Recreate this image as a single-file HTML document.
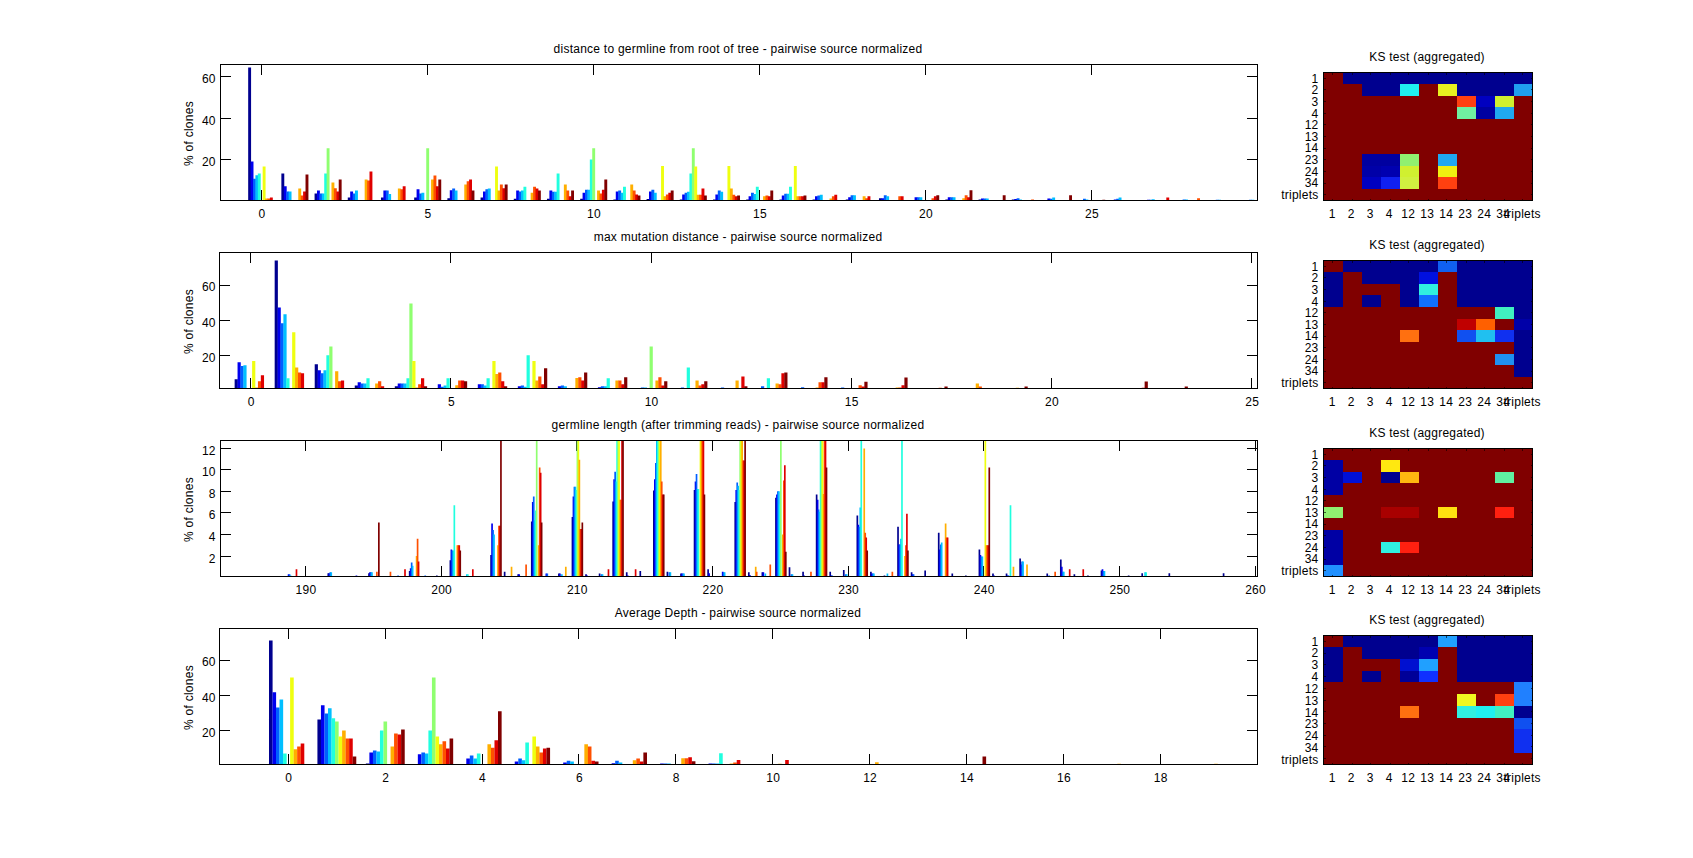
<!DOCTYPE html>
<html lang="en"><head><meta charset="utf-8"><title>pairwise source normalized</title>
<style>html,body{margin:0;padding:0;background:#fff}body{width:1693px;height:858px;overflow:hidden}svg{display:block}text{font-family:"Liberation Sans",Arial,Helvetica,sans-serif;font-size:12px;letter-spacing:0.25px;fill:#000}</style>
</head><body>
<svg width="1693" height="858" viewBox="0 0 1693 858">
<rect x="0" y="0" width="1693" height="858" fill="#fff"/>
<g id="chart1">
<clipPath id="cp0"><rect x="220.5" y="64.5" width="1037" height="136"/></clipPath>
<path stroke="#000" stroke-width="1" fill="none" shape-rendering="crispEdges" d="M261.5 200.5v-10.5M261.5 64.5v10.5M427.5 200.5v-10.5M427.5 64.5v10.5M593.5 200.5v-10.5M593.5 64.5v10.5M759.5 200.5v-10.5M759.5 64.5v10.5M925.5 200.5v-10.5M925.5 64.5v10.5M1091.5 200.5v-10.5M1091.5 64.5v10.5M220.5 159.5h10.5M1257.5 159.5h-10.5M220.5 118.5h10.5M1257.5 118.5h-10.5M220.5 76.5h10.5M1257.5 76.5h-10.5"/>
<g clip-path="url(#cp0)">
<path fill="#00008F" d="M248.17 67.61h2.91v132.89h-2.91zM281.37 173.38h2.91v27.12h-2.91zM314.57 193.46h2.91v7.04h-2.91zM347.77 197.4h2.91v3.1h-2.91zM380.97 197.4h2.91v3.1h-2.91zM414.17 197.4h2.91v3.1h-2.91zM447.37 198.22h2.91v2.28h-2.91zM480.57 197.6h2.91v2.9h-2.91zM513.77 198.64h2.91v1.86h-2.91zM546.97 198.64h2.91v1.86h-2.91zM580.17 198.64h2.91v1.86h-2.91zM613.37 199.47h2.91v1.03h-2.91zM646.57 199.05h2.91v1.45h-2.91zM679.77 199.47h2.91v1.03h-2.91zM712.97 199.47h2.91v1.03h-2.91zM746.17 199.47h2.91v1.03h-2.91zM779.37 199.47h2.91v1.03h-2.91zM812.57 199.47h2.91v1.03h-2.91zM845.77 199.47h2.91v1.03h-2.91zM878.97 198.22h2.91v2.28h-2.91zM945.37 199.47h2.91v1.03h-2.91zM978.57 199.47h2.91v1.03h-2.91zM1011.77 199.47h2.91v1.03h-2.91z"/>
<path fill="#0000EF" d="M250.58 161.38h2.91v39.12h-2.91zM283.78 186.22h2.91v14.28h-2.91zM316.98 190.56h2.91v9.94h-2.91zM350.18 191.39h2.91v9.11h-2.91zM383.38 190.56h2.91v9.94h-2.91zM416.58 189.32h2.91v11.18h-2.91zM449.78 190.15h2.91v10.35h-2.91zM482.98 191.39h2.91v9.11h-2.91zM516.18 190.56h2.91v9.94h-2.91zM549.38 190.56h2.91v9.94h-2.91zM582.58 192.63h2.91v7.87h-2.91zM615.78 191.39h2.91v9.11h-2.91zM648.98 191.39h2.91v9.11h-2.91zM682.18 194.5h2.91v6h-2.91zM715.38 194.5h2.91v6h-2.91zM748.58 196.36h2.91v4.14h-2.91zM781.78 195.53h2.91v4.97h-2.91zM814.98 196.36h2.91v4.14h-2.91zM848.18 197.19h2.91v3.31h-2.91zM881.38 198.22h2.91v2.28h-2.91zM914.58 197.19h2.91v3.31h-2.91zM947.78 197.19h2.91v3.31h-2.91zM980.98 198.43h2.91v2.07h-2.91zM1014.18 199.05h2.91v1.45h-2.91zM1047.38 198.43h2.91v2.07h-2.91zM1113.78 199.47h2.91v1.03h-2.91zM1146.98 199.67h2.91v0.83h-2.91z"/>
<path fill="#0060FF" d="M253 178.76h2.91v21.73h-2.91zM286.2 191.39h2.91v9.11h-2.91zM319.4 193.46h2.91v7.04h-2.91zM352.6 193.46h2.91v7.04h-2.91zM385.8 190.56h2.91v9.94h-2.91zM419 193.46h2.91v7.04h-2.91zM452.2 188.49h2.91v12.01h-2.91zM485.4 189.32h2.91v11.18h-2.91zM518.6 191.39h2.91v9.11h-2.91zM551.8 191.81h2.91v8.69h-2.91zM585 189.74h2.91v10.76h-2.91zM618.2 190.56h2.91v9.94h-2.91zM651.4 189.74h2.91v10.76h-2.91zM684.6 192.63h2.91v7.87h-2.91zM717.8 190.56h2.91v9.94h-2.91zM751 192.63h2.91v7.87h-2.91zM784.2 193.67h2.91v6.83h-2.91zM817.4 195.53h2.91v4.97h-2.91zM850.6 195.32h2.91v5.17h-2.91zM883.8 195.32h2.91v5.17h-2.91zM917 197.19h2.91v3.31h-2.91zM950.2 197.19h2.91v3.31h-2.91zM983.4 198.43h2.91v2.07h-2.91zM1016.6 198.22h2.91v2.28h-2.91zM1049.8 198.64h2.91v1.86h-2.91zM1083 198.64h2.91v1.86h-2.91zM1116.2 198.64h2.91v1.86h-2.91zM1149.4 199.67h2.91v0.83h-2.91zM1182.6 199.47h2.91v1.03h-2.91zM1215.8 199.67h2.91v0.83h-2.91zM1249 199.67h2.91v0.83h-2.91z"/>
<path fill="#00BFFF" d="M255.41 175.25h2.91v25.25h-2.91zM288.61 191.39h2.91v9.11h-2.91zM321.81 193.46h2.91v7.04h-2.91zM355.01 190.56h2.91v9.94h-2.91zM388.21 193.88h2.91v6.62h-2.91zM421.41 192.63h2.91v7.87h-2.91zM454.61 190.56h2.91v9.94h-2.91zM487.81 188.49h2.91v12.01h-2.91zM521.01 190.56h2.91v9.94h-2.91zM554.21 191.81h2.91v8.69h-2.91zM587.41 189.74h2.91v10.76h-2.91zM620.61 192.63h2.91v7.87h-2.91zM653.81 192.63h2.91v7.87h-2.91zM687.01 191.81h2.91v8.69h-2.91zM720.21 191.81h2.91v8.69h-2.91zM753.41 193.88h2.91v6.62h-2.91zM786.61 193.67h2.91v6.83h-2.91zM819.81 194.7h2.91v5.8h-2.91zM853.01 195.32h2.91v5.17h-2.91zM886.21 196.36h2.91v4.14h-2.91zM919.41 197.19h2.91v3.31h-2.91zM952.61 197.19h2.91v3.31h-2.91zM985.81 198.43h2.91v2.07h-2.91zM1019.01 199.47h2.91v1.03h-2.91zM1052.21 197.6h2.91v2.9h-2.91zM1085.41 199.47h2.91v1.03h-2.91zM1118.61 197.6h2.91v2.9h-2.91zM1151.81 199.26h2.91v1.24h-2.91zM1185.01 199.47h2.91v1.03h-2.91zM1218.21 199.67h2.91v0.83h-2.91zM1251.41 199.67h2.91v0.83h-2.91z"/>
<path fill="#20FFDF" d="M257.83 173.38h2.91v27.12h-2.91zM324.23 173.38h2.91v27.12h-2.91zM523.43 186.63h2.91v13.87h-2.91zM556.63 173.38h2.91v27.12h-2.91zM589.83 159.51h2.91v40.99h-2.91zM623.03 186.63h2.91v13.87h-2.91zM689.43 173.59h2.91v26.91h-2.91zM755.83 186.63h2.91v13.87h-2.91zM789.03 186.63h2.91v13.87h-2.91z"/>
<path fill="#8FFF70" d="M326.64 148.34h2.91v52.16h-2.91zM426.24 148.34h2.91v52.16h-2.91zM592.24 148.34h2.91v52.16h-2.91zM691.84 148.34h2.91v52.16h-2.91z"/>
<path fill="#EFFF10" d="M262.66 166.55h2.91v33.95h-2.91zM495.06 166.55h2.91v33.95h-2.91zM661.06 165.93h2.91v34.57h-2.91zM694.26 166.55h2.91v33.95h-2.91zM727.46 165.93h2.91v34.57h-2.91zM793.86 165.93h2.91v34.57h-2.91z"/>
<path fill="#FFAF00" d="M265.07 198.43h2.91v2.07h-2.91zM298.27 188.49h2.91v12.01h-2.91zM331.47 182.49h2.91v18.01h-2.91zM364.67 179.59h2.91v20.91h-2.91zM397.87 188.49h2.91v12.01h-2.91zM431.07 179.59h2.91v20.91h-2.91zM464.27 184.56h2.91v15.94h-2.91zM497.47 190.56h2.91v9.94h-2.91zM530.67 192.63h2.91v7.87h-2.91zM563.87 184.56h2.91v15.94h-2.91zM597.07 190.56h2.91v9.94h-2.91zM630.27 184.56h2.91v15.94h-2.91zM663.47 196.36h2.91v4.14h-2.91zM696.67 194.7h2.91v5.8h-2.91zM729.87 188.49h2.91v12.01h-2.91zM763.07 196.36h2.91v4.14h-2.91zM796.27 196.36h2.91v4.14h-2.91zM829.47 198.43h2.91v2.07h-2.91zM862.67 196.36h2.91v4.14h-2.91zM962.27 198.22h2.91v2.28h-2.91z"/>
<path fill="#FF5000" d="M267.49 198.43h2.91v2.07h-2.91zM300.69 195.53h2.91v4.97h-2.91zM333.89 188.29h2.91v12.21h-2.91zM367.09 180.42h2.91v20.08h-2.91zM400.29 189.32h2.91v11.18h-2.91zM433.49 175.45h2.91v25.05h-2.91zM466.69 181.25h2.91v19.25h-2.91zM499.89 184.56h2.91v15.94h-2.91zM533.09 186.63h2.91v13.87h-2.91zM566.29 190.56h2.91v9.94h-2.91zM599.49 193.46h2.91v7.04h-2.91zM632.69 190.56h2.91v9.94h-2.91zM665.89 194.5h2.91v6h-2.91zM699.09 194.7h2.91v5.8h-2.91zM732.29 194.7h2.91v5.8h-2.91zM765.49 195.53h2.91v4.97h-2.91zM798.69 196.36h2.91v4.14h-2.91zM831.89 196.36h2.91v4.14h-2.91zM865.09 198.22h2.91v2.28h-2.91zM898.29 196.36h2.91v4.14h-2.91zM931.49 198.22h2.91v2.28h-2.91zM964.69 195.32h2.91v5.17h-2.91zM1031.09 199.47h2.91v1.03h-2.91zM1163.89 199.88h2.91v0.62h-2.91zM1197.09 198.22h2.91v2.28h-2.91z"/>
<path fill="#DF0000" d="M269.9 197.4h2.91v3.1h-2.91zM303.1 191.39h2.91v9.11h-2.91zM336.3 191.39h2.91v9.11h-2.91zM369.5 171.52h2.91v28.98h-2.91zM402.7 186.22h2.91v14.28h-2.91zM435.9 186.22h2.91v14.28h-2.91zM469.1 179.59h2.91v20.91h-2.91zM502.3 188.29h2.91v12.21h-2.91zM535.5 188.49h2.91v12.01h-2.91zM568.7 196.36h2.91v4.14h-2.91zM601.9 189.74h2.91v10.76h-2.91zM635.1 194.5h2.91v6h-2.91zM668.3 192.63h2.91v7.87h-2.91zM701.5 188.49h2.91v12.01h-2.91zM734.7 196.36h2.91v4.14h-2.91zM767.9 196.36h2.91v4.14h-2.91zM801.1 196.36h2.91v4.14h-2.91zM834.3 194.7h2.91v5.8h-2.91zM867.5 196.36h2.91v4.14h-2.91zM900.7 196.36h2.91v4.14h-2.91zM933.9 196.36h2.91v4.14h-2.91zM967.1 197.19h2.91v3.31h-2.91zM1166.3 197.6h2.91v2.9h-2.91z"/>
<path fill="#800000" d="M305.52 174.42h2.91v26.08h-2.91zM338.72 179.59h2.91v20.91h-2.91zM438.32 179.59h2.91v20.91h-2.91zM471.52 190.56h2.91v9.94h-2.91zM504.72 184.56h2.91v15.94h-2.91zM537.92 190.56h2.91v9.94h-2.91zM571.12 190.56h2.91v9.94h-2.91zM604.32 179.59h2.91v20.91h-2.91zM637.52 195.53h2.91v4.97h-2.91zM670.72 190.56h2.91v9.94h-2.91zM703.92 195.53h2.91v4.97h-2.91zM737.12 195.53h2.91v4.97h-2.91zM770.32 190.56h2.91v9.94h-2.91zM803.52 195.53h2.91v4.97h-2.91zM936.32 195.32h2.91v5.17h-2.91zM969.52 190.36h2.91v10.14h-2.91zM1002.72 195.32h2.91v5.17h-2.91zM1069.12 195.32h2.91v5.17h-2.91zM1102.32 199.67h2.91v0.83h-2.91z"/>
</g>
<rect x="220.5" y="64.5" width="1037" height="136" stroke="#000" stroke-width="1" fill="none" shape-rendering="crispEdges"/>
<text x="261.9" y="217.5" text-anchor="middle">0</text>
<text x="427.9" y="217.5" text-anchor="middle">5</text>
<text x="593.9" y="217.5" text-anchor="middle">10</text>
<text x="759.9" y="217.5" text-anchor="middle">15</text>
<text x="925.9" y="217.5" text-anchor="middle">20</text>
<text x="1091.9" y="217.5" text-anchor="middle">25</text>
<text x="215.8" y="165.5" text-anchor="end">20</text>
<text x="215.8" y="124.6" text-anchor="end">40</text>
<text x="215.8" y="82.5" text-anchor="end">60</text>
<text transform="translate(192.5 133.5) rotate(-90)" text-anchor="middle">% of clones</text>
<text x="738" y="53.2" text-anchor="middle">distance to germline from root of tree - pairwise source normalized</text>
</g>
<g id="chart2">
<clipPath id="cp1"><rect x="219.5" y="252.5" width="1038" height="136"/></clipPath>
<path stroke="#000" stroke-width="1" fill="none" shape-rendering="crispEdges" d="M250.5 388.5v-10.5M250.5 252.5v10.5M450.5 388.5v-10.5M450.5 252.5v10.5M651.5 388.5v-10.5M651.5 252.5v10.5M851.5 388.5v-10.5M851.5 252.5v10.5M1051.5 388.5v-10.5M1051.5 252.5v10.5M1251.5 388.5v-10.5M1251.5 252.5v10.5M219.5 355.5h10.5M1257.5 355.5h-10.5M219.5 320.5h10.5M1257.5 320.5h-10.5M219.5 285.5h10.5M1257.5 285.5h-10.5"/>
<g clip-path="url(#cp1)">
<path fill="#00008F" d="M234.63 379.2h3.21v9.3h-3.21zM274.67 260.38h3.21v128.11h-3.21zM314.71 364.28h3.21v24.22h-3.21zM354.75 385.52h3.21v2.98h-3.21zM394.79 386.22h3.21v2.28h-3.21z"/>
<path fill="#0000EF" d="M237.55 362.35h3.21v26.15h-3.21zM277.59 307.42h3.21v81.08h-3.21zM317.63 370.25h3.21v18.25h-3.21zM357.67 382.18h3.21v6.32h-3.21zM397.71 383.41h3.21v5.09h-3.21zM437.75 384.29h3.21v4.21h-3.21zM477.79 384.29h3.21v4.21h-3.21zM517.83 386.22h3.21v2.28h-3.21zM557.87 386.22h3.21v2.28h-3.21zM597.91 387.27h3.21v1.23h-3.21z"/>
<path fill="#0060FF" d="M240.46 366.04h3.21v22.46h-3.21zM280.5 323.21h3.21v65.29h-3.21zM320.54 373.23h3.21v15.27h-3.21zM360.58 383.41h3.21v5.09h-3.21zM400.62 383.41h3.21v5.09h-3.21zM440.66 386.75h3.21v1.75h-3.21zM480.7 384.29h3.21v4.21h-3.21zM520.74 385.52h3.21v2.98h-3.21zM560.78 385.52h3.21v2.98h-3.21zM600.82 386.22h3.21v2.28h-3.21zM640.86 387.62h3.21v0.88h-3.21zM680.9 387.62h3.21v0.88h-3.21zM720.94 387.62h3.21v0.88h-3.21zM760.98 386.22h3.21v2.28h-3.21zM801.02 387.27h3.21v1.23h-3.21zM841.06 387.62h3.21v0.88h-3.21z"/>
<path fill="#00BFFF" d="M243.37 365.16h3.21v23.34h-3.21zM283.41 314.26h3.21v74.24h-3.21zM323.45 370.25h3.21v18.25h-3.21zM363.49 383.41h3.21v5.09h-3.21zM403.53 383.41h3.21v5.09h-3.21zM443.57 385.52h3.21v2.98h-3.21zM483.61 385.52h3.21v2.98h-3.21zM523.65 386.75h3.21v1.75h-3.21zM563.69 386.22h3.21v2.28h-3.21zM603.73 386.22h3.21v2.28h-3.21zM643.77 387.62h3.21v0.88h-3.21z"/>
<path fill="#20FFDF" d="M286.32 378.32h3.21v10.18h-3.21zM326.36 355.15h3.21v33.34h-3.21zM366.4 378.32h3.21v10.18h-3.21zM406.44 378.32h3.21v10.18h-3.21zM446.48 378.32h3.21v10.18h-3.21zM486.52 378.32h3.21v10.18h-3.21zM526.56 355.15h3.21v33.34h-3.21zM606.64 378.32h3.21v10.18h-3.21zM686.72 367.44h3.21v21.06h-3.21zM766.8 378.32h3.21v10.18h-3.21z"/>
<path fill="#8FFF70" d="M329.27 346.56h3.21v41.94h-3.21zM409.35 303.56h3.21v84.94h-3.21zM649.59 346.56h3.21v41.94h-3.21z"/>
<path fill="#EFFF10" d="M252.11 360.95h3.21v27.55h-3.21zM292.15 332.34h3.21v56.16h-3.21zM412.27 360.95h3.21v27.55h-3.21zM492.35 360.95h3.21v27.55h-3.21zM532.39 360.95h3.21v27.55h-3.21z"/>
<path fill="#FFAF00" d="M255.02 387.62h3.21v0.88h-3.21zM295.06 367.44h3.21v21.06h-3.21zM335.1 371.3h3.21v17.2h-3.21zM375.14 383.41h3.21v5.09h-3.21zM415.18 387.62h3.21v0.88h-3.21zM455.22 385.17h3.21v3.33h-3.21zM495.26 374.11h3.21v14.39h-3.21zM535.3 380.43h3.21v8.07h-3.21zM575.34 377.97h3.21v10.53h-3.21zM615.38 380.43h3.21v8.07h-3.21zM655.42 380.43h3.21v8.07h-3.21zM695.46 380.43h3.21v8.07h-3.21zM735.5 380.43h3.21v8.07h-3.21zM775.54 383.41h3.21v5.09h-3.21zM815.58 387.62h3.21v0.88h-3.21zM895.66 387.62h3.21v0.88h-3.21zM975.74 383.59h3.21v4.91h-3.21zM1015.78 387.8h3.21v0.7h-3.21z"/>
<path fill="#FF5000" d="M257.93 381.3h3.21v7.2h-3.21zM297.97 372.53h3.21v15.97h-3.21zM338.01 381.3h3.21v7.2h-3.21zM378.05 381.3h3.21v7.2h-3.21zM418.09 384.29h3.21v4.21h-3.21zM458.13 380.43h3.21v8.07h-3.21zM498.17 372.53h3.21v15.97h-3.21zM538.21 376.39h3.21v12.11h-3.21zM578.25 377.27h3.21v11.23h-3.21zM618.29 380.43h3.21v8.07h-3.21zM658.33 377.27h3.21v11.23h-3.21zM698.37 385.52h3.21v2.98h-3.21zM778.45 384.29h3.21v4.21h-3.21zM818.49 382.18h3.21v6.32h-3.21zM858.53 385.34h3.21v3.16h-3.21zM898.57 387.45h3.21v1.05h-3.21zM938.61 387.8h3.21v0.7h-3.21zM978.65 386.39h3.21v2.11h-3.21z"/>
<path fill="#DF0000" d="M260.84 375.34h3.21v13.16h-3.21zM300.88 373.23h3.21v15.27h-3.21zM340.92 380.43h3.21v8.07h-3.21zM380.96 386.22h3.21v2.28h-3.21zM421 378.32h3.21v10.18h-3.21zM461.04 380.43h3.21v8.07h-3.21zM501.08 381.3h3.21v7.2h-3.21zM541.12 384.29h3.21v4.21h-3.21zM581.16 380.43h3.21v8.07h-3.21zM621.2 384.29h3.21v4.21h-3.21zM661.24 385.52h3.21v2.98h-3.21zM701.28 384.29h3.21v4.21h-3.21zM741.32 376.39h3.21v12.11h-3.21zM781.36 373.23h3.21v15.27h-3.21zM821.4 382.18h3.21v6.32h-3.21zM861.44 386.39h3.21v2.11h-3.21zM901.48 385.34h3.21v3.16h-3.21zM1141.72 387.8h3.21v0.7h-3.21z"/>
<path fill="#800000" d="M423.91 386.22h3.21v2.28h-3.21zM463.95 381.3h3.21v7.2h-3.21zM503.99 386.22h3.21v2.28h-3.21zM544.03 368.32h3.21v20.18h-3.21zM584.07 372.53h3.21v15.97h-3.21zM624.11 377.27h3.21v11.23h-3.21zM664.15 381.3h3.21v7.2h-3.21zM704.19 381.3h3.21v7.2h-3.21zM744.23 386.22h3.21v2.28h-3.21zM784.27 372.53h3.21v15.97h-3.21zM824.31 377.27h3.21v11.23h-3.21zM864.35 381.66h3.21v6.84h-3.21zM904.39 377.62h3.21v10.88h-3.21zM944.43 386.39h3.21v2.11h-3.21zM1024.51 386.57h3.21v1.93h-3.21zM1144.63 381.48h3.21v7.02h-3.21zM1184.67 386.57h3.21v1.93h-3.21z"/>
</g>
<rect x="219.5" y="252.5" width="1038" height="136" stroke="#000" stroke-width="1" fill="none" shape-rendering="crispEdges"/>
<text x="251.2" y="405.5" text-anchor="middle">0</text>
<text x="451.4" y="405.5" text-anchor="middle">5</text>
<text x="651.6" y="405.5" text-anchor="middle">10</text>
<text x="851.8" y="405.5" text-anchor="middle">15</text>
<text x="1052" y="405.5" text-anchor="middle">20</text>
<text x="1252.2" y="405.5" text-anchor="middle">25</text>
<text x="215.8" y="361.6" text-anchor="end">20</text>
<text x="215.8" y="326.6" text-anchor="end">40</text>
<text x="215.8" y="291.4" text-anchor="end">60</text>
<text transform="translate(192.5 321.5) rotate(-90)" text-anchor="middle">% of clones</text>
<text x="738" y="241.2" text-anchor="middle">max mutation distance - pairwise source normalized</text>
</g>
<g id="chart3">
<clipPath id="cp2"><rect x="220.5" y="440.5" width="1037" height="136"/></clipPath>
<path stroke="#000" stroke-width="1" fill="none" shape-rendering="crispEdges" d="M305.5 576.5v-10.5M305.5 440.5v10.5M441.5 576.5v-10.5M441.5 440.5v10.5M576.5 576.5v-10.5M576.5 440.5v10.5M712.5 576.5v-10.5M712.5 440.5v10.5M848.5 576.5v-10.5M848.5 440.5v10.5M983.5 576.5v-10.5M983.5 440.5v10.5M1119.5 576.5v-10.5M1119.5 440.5v10.5M1255.5 576.5v-10.5M1255.5 440.5v10.5M220.5 556.5h10.5M1257.5 556.5h-10.5M220.5 534.5h10.5M1257.5 534.5h-10.5M220.5 512.5h10.5M1257.5 512.5h-10.5M220.5 491.5h10.5M1257.5 491.5h-10.5M220.5 469.5h10.5M1257.5 469.5h-10.5M220.5 448.5h10.5M1257.5 448.5h-10.5"/>
<g clip-path="url(#cp2)">
<path fill="#00008F" d="M327.45 573.26h1.69v3.24h-1.69zM368.15 573.26h1.69v3.24h-1.69zM408.84 571.1h1.69v5.4h-1.69zM435.97 575.42h1.69v1.08h-1.69zM449.54 560.3h1.69v16.2h-1.69zM490.23 554.9h1.69v21.6h-1.69zM503.8 571.64h1.69v4.86h-1.69zM517.36 574.34h1.69v2.16h-1.69zM530.93 521.42h1.69v55.08h-1.69zM558.06 573.58h1.69v2.92h-1.69zM571.62 517.1h1.69v59.4h-1.69zM585.19 574.34h1.69v2.16h-1.69zM598.75 573.58h1.69v2.92h-1.69zM612.32 501.44h1.69v75.06h-1.69zM625.88 572.18h1.69v4.32h-1.69zM639.45 571.1h1.69v5.4h-1.69zM653.01 490.42h1.69v86.08h-1.69zM666.58 571.64h1.69v4.86h-1.69zM680.14 573.58h1.69v2.92h-1.69zM693.71 490.1h1.69v86.4h-1.69zM707.27 569.37h1.69v7.13h-1.69zM734.4 501.98h1.69v74.52h-1.69zM747.97 572.18h1.69v4.32h-1.69zM761.53 572.18h1.69v4.32h-1.69zM775.1 497.66h1.69v78.84h-1.69zM788.66 567.32h1.69v9.18h-1.69zM802.23 571.64h1.69v4.86h-1.69zM815.79 494.42h1.69v82.08h-1.69zM829.36 571.64h1.69v4.86h-1.69zM842.92 570.02h1.69v6.48h-1.69zM856.49 515.48h1.69v61.02h-1.69zM870.05 571.64h1.69v4.86h-1.69zM883.62 575.42h1.69v1.08h-1.69zM897.18 526.82h1.69v49.68h-1.69zM910.75 572.18h1.69v4.32h-1.69zM924.31 570.45h1.69v6.05h-1.69zM937.88 532.76h1.69v43.74h-1.69zM951.44 573.58h1.69v2.92h-1.69zM965.01 575.42h1.69v1.08h-1.69zM978.57 549.5h1.69v27h-1.69zM992.14 573.58h1.69v2.92h-1.69zM1005.7 573.58h1.69v2.92h-1.69zM1019.27 558.46h1.69v18.04h-1.69zM1046.4 573.58h1.69v2.92h-1.69zM1059.96 559.44h1.69v17.06h-1.69zM1073.53 574.34h1.69v2.16h-1.69zM1087.09 575.42h1.69v1.08h-1.69zM1100.66 570.45h1.69v6.05h-1.69zM1127.79 575.53h1.69v0.97h-1.69zM1141.35 573.37h1.69v3.13h-1.69zM1168.48 573.37h1.69v3.13h-1.69zM1182.05 575.96h1.69v0.54h-1.69zM1222.74 573.37h1.69v3.13h-1.69z"/>
<path fill="#0000EF" d="M287.75 574.34h1.69v2.16h-1.69zM328.44 573.26h1.69v3.24h-1.69zM355.57 575.42h1.69v1.08h-1.69zM369.14 572.18h1.69v4.32h-1.69zM409.83 568.18h1.69v8.32h-1.69zM450.53 549.5h1.69v27h-1.69zM491.22 523.58h1.69v52.92h-1.69zM518.35 574.34h1.69v2.16h-1.69zM531.92 501.98h1.69v74.52h-1.69zM545.48 573.58h1.69v2.92h-1.69zM559.05 573.58h1.69v2.92h-1.69zM572.61 496.58h1.69v79.92h-1.69zM586.18 575.42h1.69v1.08h-1.69zM613.31 479.3h1.69v97.2h-1.69zM626.87 575.42h1.69v1.08h-1.69zM654 479.3h1.69v97.2h-1.69zM681.13 573.58h1.69v2.92h-1.69zM694.7 481.46h1.69v95.04h-1.69zM708.26 573.26h1.69v3.24h-1.69zM721.83 571.64h1.69v4.86h-1.69zM735.39 490.1h1.69v86.4h-1.69zM748.96 574.88h1.69v1.62h-1.69zM762.52 572.18h1.69v4.32h-1.69zM776.09 494.42h1.69v82.08h-1.69zM803.22 575.42h1.69v1.08h-1.69zM816.78 499.82h1.69v76.68h-1.69zM830.35 575.42h1.69v1.08h-1.69zM857.48 524.66h1.69v51.84h-1.69zM871.04 573.58h1.69v2.92h-1.69zM898.17 544.53h1.69v31.97h-1.69zM911.74 574.34h1.69v2.16h-1.69zM938.87 549.5h1.69v27h-1.69zM979.56 554.9h1.69v21.6h-1.69zM993.13 575.42h1.69v1.08h-1.69zM1006.69 575.42h1.69v1.08h-1.69zM1020.26 564.62h1.69v11.88h-1.69zM1060.95 566.78h1.69v9.72h-1.69zM1101.65 569.37h1.69v7.13h-1.69z"/>
<path fill="#0060FF" d="M288.73 574.34h1.69v2.16h-1.69zM329.43 572.18h1.69v4.32h-1.69zM370.12 572.18h1.69v4.32h-1.69zM397.25 575.42h1.69v1.08h-1.69zM410.82 562.46h1.69v14.04h-1.69zM424.38 575.42h1.69v1.08h-1.69zM451.51 550.58h1.69v25.92h-1.69zM492.21 530.06h1.69v46.44h-1.69zM532.9 496.58h1.69v79.92h-1.69zM546.47 573.58h1.69v2.92h-1.69zM573.6 486.86h1.69v89.64h-1.69zM600.73 574.34h1.69v2.16h-1.69zM614.29 471.74h1.69v104.76h-1.69zM654.99 463.1h1.69v113.4h-1.69zM668.55 572.18h1.69v4.32h-1.69zM682.12 573.58h1.69v2.92h-1.69zM695.68 473.9h1.69v102.6h-1.69zM722.81 572.18h1.69v4.32h-1.69zM736.38 482.54h1.69v93.96h-1.69zM777.07 491.18h1.69v85.32h-1.69zM790.64 574.34h1.69v2.16h-1.69zM817.77 509.54h1.69v66.96h-1.69zM831.33 575.42h1.69v1.08h-1.69zM844.9 574.34h1.69v2.16h-1.69zM858.46 526.82h1.69v49.68h-1.69zM872.03 573.58h1.69v2.92h-1.69zM899.16 544.53h1.69v31.97h-1.69zM912.72 574.34h1.69v2.16h-1.69zM939.85 544.53h1.69v31.97h-1.69zM980.55 556.41h1.69v20.09h-1.69zM1007.68 575.42h1.69v1.08h-1.69zM1021.24 561.38h1.69v15.12h-1.69zM1048.37 575.42h1.69v1.08h-1.69zM1061.94 571.64h1.69v4.86h-1.69zM1102.63 571.1h1.69v5.4h-1.69z"/>
<path fill="#00BFFF" d="M289.72 575.42h1.69v1.08h-1.69zM330.41 572.18h1.69v4.32h-1.69zM371.11 572.18h1.69v4.32h-1.69zM411.8 565.7h1.69v10.8h-1.69zM452.5 550.58h1.69v25.92h-1.69zM466.06 574.34h1.69v2.16h-1.69zM493.19 534.38h1.69v42.12h-1.69zM533.89 520.34h1.69v56.16h-1.69zM561.02 574.34h1.69v2.16h-1.69zM574.58 486.86h1.69v89.64h-1.69zM601.71 574.34h1.69v2.16h-1.69zM615.28 481.46h1.69v95.04h-1.69zM655.97 430.7h1.69v145.8h-1.69zM669.54 572.18h1.69v4.32h-1.69zM683.1 573.58h1.69v2.92h-1.69zM696.67 489.02h1.69v87.48h-1.69zM723.8 572.18h1.69v4.32h-1.69zM737.36 485.78h1.69v90.72h-1.69zM764.49 573.58h1.69v2.92h-1.69zM778.06 491.18h1.69v85.32h-1.69zM791.62 574.34h1.69v2.16h-1.69zM818.75 511.7h1.69v64.8h-1.69zM845.88 574.34h1.69v2.16h-1.69zM859.45 507.38h1.69v69.12h-1.69zM873.01 573.58h1.69v2.92h-1.69zM886.58 573.58h1.69v2.92h-1.69zM900.14 538.7h1.69v37.8h-1.69zM940.84 542.48h1.69v34.02h-1.69zM981.53 556.41h1.69v20.09h-1.69zM1022.23 561.38h1.69v15.12h-1.69zM1062.92 571.64h1.69v4.86h-1.69zM1103.62 571.1h1.69v5.4h-1.69zM1144.31 572.29h1.69v4.21h-1.69z"/>
<path fill="#20FFDF" d="M453.49 505.22h1.69v71.28h-1.69zM467.05 574.34h1.69v2.16h-1.69zM534.88 510.62h1.69v65.88h-1.69zM575.57 490.1h1.69v86.4h-1.69zM616.27 430.7h1.69v145.8h-1.69zM656.96 430.7h1.69v145.8h-1.69zM697.66 489.02h1.69v87.48h-1.69zM738.35 490.1h1.69v86.4h-1.69zM779.05 504.14h1.69v72.36h-1.69zM819.74 430.7h1.69v145.8h-1.69zM860.44 430.7h1.69v145.8h-1.69zM901.13 430.7h1.69v145.8h-1.69zM1009.65 505.22h1.69v71.28h-1.69zM1145.3 572.29h1.69v4.21h-1.69z"/>
<path fill="#8FFF70" d="M535.86 430.7h1.69v145.8h-1.69zM576.56 430.7h1.69v145.8h-1.69zM617.25 430.7h1.69v145.8h-1.69zM657.95 430.7h1.69v145.8h-1.69zM739.34 430.7h1.69v145.8h-1.69zM780.03 430.7h1.69v145.8h-1.69zM820.73 430.7h1.69v145.8h-1.69z"/>
<path fill="#EFFF10" d="M577.54 430.7h1.69v145.8h-1.69zM618.24 430.7h1.69v145.8h-1.69zM658.93 430.7h1.69v145.8h-1.69zM699.63 430.7h1.69v145.8h-1.69zM740.32 430.7h1.69v145.8h-1.69zM821.71 430.7h1.69v145.8h-1.69zM984.49 430.7h1.69v145.8h-1.69z"/>
<path fill="#FFAF00" d="M415.75 555.98h1.69v20.52h-1.69zM456.44 545.18h1.69v31.32h-1.69zM497.14 545.18h1.69v31.32h-1.69zM510.7 566.78h1.69v9.72h-1.69zM537.83 545.18h1.69v31.32h-1.69zM564.96 566.78h1.69v9.72h-1.69zM578.53 459.86h1.69v116.64h-1.69zM619.22 499.82h1.69v76.68h-1.69zM659.92 430.7h1.69v145.8h-1.69zM700.61 430.7h1.69v145.8h-1.69zM741.31 430.7h1.69v145.8h-1.69zM754.87 566.78h1.69v9.72h-1.69zM782 534.38h1.69v42.12h-1.69zM822.7 493.88h1.69v82.62h-1.69zM863.39 448.52h1.69v127.98h-1.69zM904.09 555.98h1.69v20.52h-1.69zM944.78 523.58h1.69v52.92h-1.69zM985.48 545.18h1.69v31.32h-1.69zM1012.61 566.78h1.69v9.72h-1.69zM1026.17 564.62h1.69v11.88h-1.69z"/>
<path fill="#FF5000" d="M376.04 571.64h1.69v4.86h-1.69zM389.61 571.64h1.69v4.86h-1.69zM416.74 538.7h1.69v37.8h-1.69zM457.43 545.18h1.69v31.32h-1.69zM498.13 525.74h1.69v50.76h-1.69zM525.26 564.62h1.69v11.88h-1.69zM538.82 467.42h1.69v109.08h-1.69zM579.52 528.98h1.69v47.52h-1.69zM620.21 499.82h1.69v76.68h-1.69zM660.91 481.46h1.69v95.04h-1.69zM701.6 430.7h1.69v145.8h-1.69zM742.3 460.4h1.69v116.1h-1.69zM755.86 571.64h1.69v4.86h-1.69zM769.43 564.62h1.69v11.88h-1.69zM782.99 480.38h1.69v96.12h-1.69zM810.12 571.64h1.69v4.86h-1.69zM823.69 430.7h1.69v145.8h-1.69zM864.38 532.76h1.69v43.74h-1.69zM891.51 571.64h1.69v4.86h-1.69zM905.08 545.18h1.69v31.32h-1.69zM945.77 537.62h1.69v38.88h-1.69zM986.47 545.18h1.69v31.32h-1.69zM1054.29 571.64h1.69v4.86h-1.69z"/>
<path fill="#DF0000" d="M295.64 569.37h1.69v7.13h-1.69zM404.16 569.37h1.69v7.13h-1.69zM417.72 561.38h1.69v15.12h-1.69zM458.42 545.18h1.69v31.32h-1.69zM471.98 569.37h1.69v7.13h-1.69zM499.11 525.74h1.69v50.76h-1.69zM539.81 472.82h1.69v103.68h-1.69zM580.5 528.98h1.69v47.52h-1.69zM607.63 569.37h1.69v7.13h-1.69zM621.2 430.7h1.69v145.8h-1.69zM634.76 569.37h1.69v7.13h-1.69zM661.89 494.42h1.69v82.08h-1.69zM702.59 430.7h1.69v145.8h-1.69zM743.28 460.4h1.69v116.1h-1.69zM783.98 465.26h1.69v111.24h-1.69zM824.67 430.7h1.69v145.8h-1.69zM865.37 537.62h1.69v38.88h-1.69zM906.06 513.86h1.69v62.64h-1.69zM946.76 537.62h1.69v38.88h-1.69zM987.45 545.18h1.69v31.32h-1.69zM1068.84 569.37h1.69v7.13h-1.69zM1082.41 569.37h1.69v7.13h-1.69z"/>
<path fill="#800000" d="M378.01 522.5h1.69v54h-1.69zM459.4 550.58h1.69v25.92h-1.69zM500.1 430.7h1.69v145.8h-1.69zM540.79 522.5h1.69v54h-1.69zM581.49 522.5h1.69v54h-1.69zM622.18 430.7h1.69v145.8h-1.69zM662.88 494.42h1.69v82.08h-1.69zM703.57 494.42h1.69v82.08h-1.69zM744.27 430.7h1.69v145.8h-1.69zM784.96 551.66h1.69v24.84h-1.69zM825.66 467.42h1.69v109.08h-1.69zM866.35 550.58h1.69v25.92h-1.69zM907.05 550.58h1.69v25.92h-1.69zM988.44 467.42h1.69v109.08h-1.69z"/>
</g>
<rect x="220.5" y="440.5" width="1037" height="136" stroke="#000" stroke-width="1" fill="none" shape-rendering="crispEdges"/>
<text x="306" y="593.5" text-anchor="middle">190</text>
<text x="441.65" y="593.5" text-anchor="middle">200</text>
<text x="577.3" y="593.5" text-anchor="middle">210</text>
<text x="712.95" y="593.5" text-anchor="middle">220</text>
<text x="848.6" y="593.5" text-anchor="middle">230</text>
<text x="984.25" y="593.5" text-anchor="middle">240</text>
<text x="1119.9" y="593.5" text-anchor="middle">250</text>
<text x="1255.55" y="593.5" text-anchor="middle">260</text>
<text x="215.8" y="562.6" text-anchor="end">2</text>
<text x="215.8" y="540.6" text-anchor="end">4</text>
<text x="215.8" y="518.8" text-anchor="end">6</text>
<text x="215.8" y="497.5" text-anchor="end">8</text>
<text x="215.8" y="475.9" text-anchor="end">10</text>
<text x="215.8" y="454.6" text-anchor="end">12</text>
<text transform="translate(192.5 509.5) rotate(-90)" text-anchor="middle">% of clones</text>
<text x="738" y="429.2" text-anchor="middle">germline length (after trimming reads) - pairwise source normalized</text>
</g>
<g id="chart4">
<clipPath id="cp3"><rect x="219.5" y="628.5" width="1038" height="136"/></clipPath>
<path stroke="#000" stroke-width="1" fill="none" shape-rendering="crispEdges" d="M288.5 764.5v-10.5M288.5 628.5v10.5M385.5 764.5v-10.5M385.5 628.5v10.5M482.5 764.5v-10.5M482.5 628.5v10.5M578.5 764.5v-10.5M578.5 628.5v10.5M675.5 764.5v-10.5M675.5 628.5v10.5M772.5 764.5v-10.5M772.5 628.5v10.5M869.5 764.5v-10.5M869.5 628.5v10.5M966.5 764.5v-10.5M966.5 628.5v10.5M1063.5 764.5v-10.5M1063.5 628.5v10.5M1160.5 764.5v-10.5M1160.5 628.5v10.5M219.5 730.5h10.5M1257.5 730.5h-10.5M219.5 695.5h10.5M1257.5 695.5h-10.5M219.5 660.5h10.5M1257.5 660.5h-10.5"/>
<g clip-path="url(#cp3)">
<path fill="#00008F" d="M268.97 640.42h3.62v124.08h-3.62zM317.42 719.4h3.62v45.1h-3.62zM365.87 763.62h3.62v0.88h-3.62z"/>
<path fill="#0000EF" d="M272.49 692.37h3.62v72.13h-3.62zM320.94 705.36h3.62v59.14h-3.62zM369.39 752.39h3.62v12.11h-3.62zM417.84 754.32h3.62v10.18h-3.62zM466.29 758.53h3.62v5.97h-3.62zM514.74 761.52h3.62v2.98h-3.62zM563.19 762.39h3.62v2.11h-3.62zM611.64 763.27h3.62v1.23h-3.62zM660.09 763.62h3.62v0.88h-3.62zM708.54 763.62h3.62v0.88h-3.62z"/>
<path fill="#0060FF" d="M276.02 707.46h3.62v57.04h-3.62zM324.47 713.43h3.62v51.07h-3.62zM372.92 750.46h3.62v14.04h-3.62zM421.37 752.39h3.62v12.11h-3.62zM469.82 755.55h3.62v8.95h-3.62zM518.27 758.53h3.62v5.97h-3.62zM566.72 760.64h3.62v3.86h-3.62zM615.17 760.64h3.62v3.86h-3.62zM663.62 763.62h3.62v0.88h-3.62zM712.07 763.62h3.62v0.88h-3.62z"/>
<path fill="#00BFFF" d="M279.54 699.39h3.62v65.11h-3.62zM327.99 708.34h3.62v56.16h-3.62zM376.44 751.51h3.62v12.99h-3.62zM424.89 753.44h3.62v11.06h-3.62zM473.34 758.53h3.62v5.97h-3.62zM521.79 760.29h3.62v4.21h-3.62zM570.24 761.52h3.62v2.98h-3.62zM618.69 762.39h3.62v2.11h-3.62zM667.14 763.62h3.62v0.88h-3.62zM715.59 763.62h3.62v0.88h-3.62z"/>
<path fill="#20FFDF" d="M283.06 753.44h3.62v11.06h-3.62zM331.51 718.34h3.62v46.16h-3.62zM379.96 730.45h3.62v34.05h-3.62zM428.41 730.45h3.62v34.05h-3.62zM476.86 753.44h3.62v11.06h-3.62zM525.31 742.56h3.62v21.94h-3.62zM719.11 753.27h3.62v11.23h-3.62z"/>
<path fill="#8FFF70" d="M335.04 721.5h3.62v43h-3.62zM383.49 721.5h3.62v43h-3.62zM431.94 677.45h3.62v87.05h-3.62z"/>
<path fill="#EFFF10" d="M290.11 677.45h3.62v87.05h-3.62zM338.56 736.6h3.62v27.9h-3.62zM435.46 736.6h3.62v27.9h-3.62zM532.36 736.6h3.62v27.9h-3.62z"/>
<path fill="#FFAF00" d="M293.64 749.23h3.62v15.27h-3.62zM342.09 730.45h3.62v34.05h-3.62zM390.54 746.42h3.62v18.08h-3.62zM438.99 744.32h3.62v20.18h-3.62zM487.44 744.32h3.62v20.18h-3.62zM535.89 746.42h3.62v18.08h-3.62zM584.34 744.32h3.62v20.18h-3.62zM632.79 760.29h3.62v4.21h-3.62zM681.24 758.36h3.62v6.14h-3.62zM729.69 763.62h3.62v0.88h-3.62zM778.14 763.8h3.62v0.7h-3.62zM875.04 762.22h3.62v2.28h-3.62zM1117.29 763.8h3.62v0.7h-3.62zM1214.19 763.8h3.62v0.7h-3.62z"/>
<path fill="#FF5000" d="M297.16 746.42h3.62v18.08h-3.62zM345.61 738.53h3.62v25.97h-3.62zM394.06 733.61h3.62v30.89h-3.62zM442.51 741.33h3.62v23.17h-3.62zM490.96 747.65h3.62v16.85h-3.62zM539.41 752.39h3.62v12.11h-3.62zM587.86 746.42h3.62v18.08h-3.62zM636.31 758.53h3.62v5.97h-3.62zM684.76 758.36h3.62v6.14h-3.62zM733.21 762.39h3.62v2.11h-3.62z"/>
<path fill="#DF0000" d="M300.68 743.44h3.62v21.06h-3.62zM349.13 738.53h3.62v25.97h-3.62zM397.58 734.49h3.62v30.01h-3.62zM446.03 748.53h3.62v15.97h-3.62zM494.48 740.28h3.62v24.22h-3.62zM542.93 748.53h3.62v15.97h-3.62zM591.38 760.64h3.62v3.86h-3.62zM639.83 761.52h3.62v2.98h-3.62zM688.28 757.3h3.62v7.2h-3.62zM736.73 760.11h3.62v4.39h-3.62zM785.18 760.11h3.62v4.39h-3.62z"/>
<path fill="#800000" d="M352.66 756.43h3.62v8.07h-3.62zM401.11 729.58h3.62v34.92h-3.62zM449.56 738.53h3.62v25.97h-3.62zM498.01 711.32h3.62v53.18h-3.62zM546.46 747.65h3.62v16.85h-3.62zM594.91 761.52h3.62v2.98h-3.62zM643.36 752.39h3.62v12.11h-3.62zM691.81 761.17h3.62v3.33h-3.62zM982.51 756.43h3.62v8.07h-3.62z"/>
</g>
<rect x="219.5" y="628.5" width="1038" height="136" stroke="#000" stroke-width="1" fill="none" shape-rendering="crispEdges"/>
<text x="288.7" y="781.5" text-anchor="middle">0</text>
<text x="385.6" y="781.5" text-anchor="middle">2</text>
<text x="482.5" y="781.5" text-anchor="middle">4</text>
<text x="579.4" y="781.5" text-anchor="middle">6</text>
<text x="676.3" y="781.5" text-anchor="middle">8</text>
<text x="773.2" y="781.5" text-anchor="middle">10</text>
<text x="870.1" y="781.5" text-anchor="middle">12</text>
<text x="967" y="781.5" text-anchor="middle">14</text>
<text x="1063.9" y="781.5" text-anchor="middle">16</text>
<text x="1160.8" y="781.5" text-anchor="middle">18</text>
<text x="215.8" y="736.6" text-anchor="end">20</text>
<text x="215.8" y="701.6" text-anchor="end">40</text>
<text x="215.8" y="666.4" text-anchor="end">60</text>
<text transform="translate(192.5 697.5) rotate(-90)" text-anchor="middle">% of clones</text>
<text x="738" y="617.2" text-anchor="middle">Average Depth - pairwise source normalized</text>
</g>
<g id="heat1">
<rect x="1323.5" y="72.5" width="209" height="128" fill="#800000"/>
<rect shape-rendering="crispEdges" x="1342.5" y="72.5" width="190" height="11.64" fill="#00008F"/>
<rect shape-rendering="crispEdges" x="1361.5" y="84.14" width="38" height="11.64" fill="#00008F"/>
<rect shape-rendering="crispEdges" x="1399.5" y="84.14" width="19" height="11.64" fill="#20EFEF"/>
<rect shape-rendering="crispEdges" x="1437.5" y="84.14" width="19" height="11.64" fill="#E8F020"/>
<rect shape-rendering="crispEdges" x="1456.5" y="84.14" width="57" height="11.64" fill="#00008F"/>
<rect shape-rendering="crispEdges" x="1513.5" y="84.14" width="19" height="11.64" fill="#209FEF"/>
<rect shape-rendering="crispEdges" x="1456.5" y="95.77" width="19" height="11.64" fill="#FF4010"/>
<rect shape-rendering="crispEdges" x="1475.5" y="95.77" width="19" height="11.64" fill="#0000C0"/>
<rect shape-rendering="crispEdges" x="1494.5" y="95.77" width="19" height="11.64" fill="#D0F030"/>
<rect shape-rendering="crispEdges" x="1456.5" y="107.41" width="19" height="11.64" fill="#70F0A0"/>
<rect shape-rendering="crispEdges" x="1475.5" y="107.41" width="19" height="11.64" fill="#0000A0"/>
<rect shape-rendering="crispEdges" x="1494.5" y="107.41" width="19" height="11.64" fill="#20A8F0"/>
<rect shape-rendering="crispEdges" x="1361.5" y="153.95" width="38" height="11.64" fill="#0000A0"/>
<rect shape-rendering="crispEdges" x="1399.5" y="153.95" width="19" height="11.64" fill="#90F070"/>
<rect shape-rendering="crispEdges" x="1437.5" y="153.95" width="19" height="11.64" fill="#20A8F0"/>
<rect shape-rendering="crispEdges" x="1361.5" y="165.59" width="19" height="11.64" fill="#0000A8"/>
<rect shape-rendering="crispEdges" x="1380.5" y="165.59" width="19" height="11.64" fill="#0000B0"/>
<rect shape-rendering="crispEdges" x="1399.5" y="165.59" width="19" height="11.64" fill="#D0F030"/>
<rect shape-rendering="crispEdges" x="1437.5" y="165.59" width="19" height="11.64" fill="#F0F010"/>
<rect shape-rendering="crispEdges" x="1361.5" y="177.23" width="19" height="11.64" fill="#0000C0"/>
<rect shape-rendering="crispEdges" x="1380.5" y="177.23" width="19" height="11.64" fill="#1020F0"/>
<rect shape-rendering="crispEdges" x="1399.5" y="177.23" width="19" height="11.64" fill="#D0F040"/>
<rect shape-rendering="crispEdges" x="1437.5" y="177.23" width="19" height="11.64" fill="#FF4010"/>
<g stroke="#000" stroke-width="1" fill="none" shape-rendering="crispEdges">
<rect x="1323.5" y="72.5" width="209" height="128"/>
<path stroke-opacity="0.6" d="M1332.5 200.5v-2M1332.5 72.5v2M1323.5 78.5h2M1532.5 78.5h-2M1352.5 200.5v-2M1352.5 72.5v2M1323.5 89.5h2M1532.5 89.5h-2M1370.5 200.5v-2M1370.5 72.5v2M1323.5 101.5h2M1532.5 101.5h-2M1390.5 200.5v-2M1390.5 72.5v2M1323.5 113.5h2M1532.5 113.5h-2M1408.5 200.5v-2M1408.5 72.5v2M1323.5 124.5h2M1532.5 124.5h-2M1428.5 200.5v-2M1428.5 72.5v2M1323.5 136.5h2M1532.5 136.5h-2M1446.5 200.5v-2M1446.5 72.5v2M1323.5 148.5h2M1532.5 148.5h-2M1466.5 200.5v-2M1466.5 72.5v2M1323.5 159.5h2M1532.5 159.5h-2M1484.5 200.5v-2M1484.5 72.5v2M1323.5 171.5h2M1532.5 171.5h-2M1504.5 200.5v-2M1504.5 72.5v2M1323.5 183.5h2M1532.5 183.5h-2M1522.5 200.5v-2M1522.5 72.5v2M1323.5 194.5h2M1532.5 194.5h-2"/>
</g>
<text x="1332.2" y="217.8" text-anchor="middle">1</text>
<text x="1318.5" y="82.62" text-anchor="end">1</text>
<text x="1351.2" y="217.8" text-anchor="middle">2</text>
<text x="1318.5" y="94.25" text-anchor="end">2</text>
<text x="1370.2" y="217.8" text-anchor="middle">3</text>
<text x="1318.5" y="105.89" text-anchor="end">3</text>
<text x="1389.2" y="217.8" text-anchor="middle">4</text>
<text x="1318.5" y="117.53" text-anchor="end">4</text>
<text x="1408.2" y="217.8" text-anchor="middle">12</text>
<text x="1318.5" y="129.16" text-anchor="end">12</text>
<text x="1427.2" y="217.8" text-anchor="middle">13</text>
<text x="1318.5" y="140.8" text-anchor="end">13</text>
<text x="1446.2" y="217.8" text-anchor="middle">14</text>
<text x="1318.5" y="152.44" text-anchor="end">14</text>
<text x="1465.2" y="217.8" text-anchor="middle">23</text>
<text x="1318.5" y="164.07" text-anchor="end">23</text>
<text x="1484.2" y="217.8" text-anchor="middle">24</text>
<text x="1318.5" y="175.71" text-anchor="end">24</text>
<text x="1503.2" y="217.8" text-anchor="middle">34</text>
<text x="1318.5" y="187.35" text-anchor="end">34</text>
<text x="1522.2" y="217.8" text-anchor="middle">triplets</text>
<text x="1318.5" y="198.98" text-anchor="end">triplets</text>
<text x="1427" y="61" text-anchor="middle">KS test (aggregated)</text>
</g>
<g id="heat2">
<rect x="1323.5" y="260.5" width="209" height="128" fill="#800000"/>
<rect shape-rendering="crispEdges" x="1342.5" y="260.5" width="95" height="11.64" fill="#00008F"/>
<rect shape-rendering="crispEdges" x="1437.5" y="260.5" width="19" height="11.64" fill="#1060F0"/>
<rect shape-rendering="crispEdges" x="1456.5" y="260.5" width="76" height="11.64" fill="#00008F"/>
<rect shape-rendering="crispEdges" x="1323.5" y="272.14" width="19" height="11.64" fill="#00008F"/>
<rect shape-rendering="crispEdges" x="1361.5" y="272.14" width="57" height="11.64" fill="#00008F"/>
<rect shape-rendering="crispEdges" x="1418.5" y="272.14" width="19" height="11.64" fill="#0010E0"/>
<rect shape-rendering="crispEdges" x="1456.5" y="272.14" width="76" height="11.64" fill="#00008F"/>
<rect shape-rendering="crispEdges" x="1323.5" y="283.77" width="19" height="11.64" fill="#00008F"/>
<rect shape-rendering="crispEdges" x="1399.5" y="283.77" width="19" height="11.64" fill="#00008F"/>
<rect shape-rendering="crispEdges" x="1418.5" y="283.77" width="19" height="11.64" fill="#30F0E0"/>
<rect shape-rendering="crispEdges" x="1456.5" y="283.77" width="76" height="11.64" fill="#00008F"/>
<rect shape-rendering="crispEdges" x="1323.5" y="295.41" width="19" height="11.64" fill="#00008F"/>
<rect shape-rendering="crispEdges" x="1361.5" y="295.41" width="19" height="11.64" fill="#00008F"/>
<rect shape-rendering="crispEdges" x="1399.5" y="295.41" width="19" height="11.64" fill="#00008F"/>
<rect shape-rendering="crispEdges" x="1418.5" y="295.41" width="19" height="11.64" fill="#1070FF"/>
<rect shape-rendering="crispEdges" x="1456.5" y="295.41" width="76" height="11.64" fill="#00008F"/>
<rect shape-rendering="crispEdges" x="1494.5" y="307.05" width="19" height="11.64" fill="#40F0C0"/>
<rect shape-rendering="crispEdges" x="1513.5" y="307.05" width="19" height="11.64" fill="#00008F"/>
<rect shape-rendering="crispEdges" x="1456.5" y="318.68" width="19" height="11.64" fill="#C00000"/>
<rect shape-rendering="crispEdges" x="1475.5" y="318.68" width="19" height="11.64" fill="#FF6000"/>
<rect shape-rendering="crispEdges" x="1513.5" y="318.68" width="19" height="11.64" fill="#0000A8"/>
<rect shape-rendering="crispEdges" x="1399.5" y="330.32" width="19" height="11.64" fill="#FF7010"/>
<rect shape-rendering="crispEdges" x="1456.5" y="330.32" width="19" height="11.64" fill="#1050F0"/>
<rect shape-rendering="crispEdges" x="1475.5" y="330.32" width="19" height="11.64" fill="#20C0F0"/>
<rect shape-rendering="crispEdges" x="1494.5" y="330.32" width="19" height="11.64" fill="#1030F0"/>
<rect shape-rendering="crispEdges" x="1513.5" y="330.32" width="19" height="11.64" fill="#00008F"/>
<rect shape-rendering="crispEdges" x="1513.5" y="341.95" width="19" height="11.64" fill="#00008F"/>
<rect shape-rendering="crispEdges" x="1494.5" y="353.59" width="19" height="11.64" fill="#2090F0"/>
<rect shape-rendering="crispEdges" x="1513.5" y="353.59" width="19" height="11.64" fill="#00008F"/>
<rect shape-rendering="crispEdges" x="1513.5" y="365.23" width="19" height="11.64" fill="#00008F"/>
<g stroke="#000" stroke-width="1" fill="none" shape-rendering="crispEdges">
<rect x="1323.5" y="260.5" width="209" height="128"/>
<path stroke-opacity="0.6" d="M1332.5 388.5v-2M1332.5 260.5v2M1323.5 266.5h2M1532.5 266.5h-2M1352.5 388.5v-2M1352.5 260.5v2M1323.5 277.5h2M1532.5 277.5h-2M1370.5 388.5v-2M1370.5 260.5v2M1323.5 289.5h2M1532.5 289.5h-2M1390.5 388.5v-2M1390.5 260.5v2M1323.5 301.5h2M1532.5 301.5h-2M1408.5 388.5v-2M1408.5 260.5v2M1323.5 312.5h2M1532.5 312.5h-2M1428.5 388.5v-2M1428.5 260.5v2M1323.5 324.5h2M1532.5 324.5h-2M1446.5 388.5v-2M1446.5 260.5v2M1323.5 336.5h2M1532.5 336.5h-2M1466.5 388.5v-2M1466.5 260.5v2M1323.5 347.5h2M1532.5 347.5h-2M1484.5 388.5v-2M1484.5 260.5v2M1323.5 359.5h2M1532.5 359.5h-2M1504.5 388.5v-2M1504.5 260.5v2M1323.5 371.5h2M1532.5 371.5h-2M1522.5 388.5v-2M1522.5 260.5v2M1323.5 382.5h2M1532.5 382.5h-2"/>
</g>
<text x="1332.2" y="405.8" text-anchor="middle">1</text>
<text x="1318.5" y="270.62" text-anchor="end">1</text>
<text x="1351.2" y="405.8" text-anchor="middle">2</text>
<text x="1318.5" y="282.25" text-anchor="end">2</text>
<text x="1370.2" y="405.8" text-anchor="middle">3</text>
<text x="1318.5" y="293.89" text-anchor="end">3</text>
<text x="1389.2" y="405.8" text-anchor="middle">4</text>
<text x="1318.5" y="305.53" text-anchor="end">4</text>
<text x="1408.2" y="405.8" text-anchor="middle">12</text>
<text x="1318.5" y="317.16" text-anchor="end">12</text>
<text x="1427.2" y="405.8" text-anchor="middle">13</text>
<text x="1318.5" y="328.8" text-anchor="end">13</text>
<text x="1446.2" y="405.8" text-anchor="middle">14</text>
<text x="1318.5" y="340.44" text-anchor="end">14</text>
<text x="1465.2" y="405.8" text-anchor="middle">23</text>
<text x="1318.5" y="352.07" text-anchor="end">23</text>
<text x="1484.2" y="405.8" text-anchor="middle">24</text>
<text x="1318.5" y="363.71" text-anchor="end">24</text>
<text x="1503.2" y="405.8" text-anchor="middle">34</text>
<text x="1318.5" y="375.35" text-anchor="end">34</text>
<text x="1522.2" y="405.8" text-anchor="middle">triplets</text>
<text x="1318.5" y="386.98" text-anchor="end">triplets</text>
<text x="1427" y="249" text-anchor="middle">KS test (aggregated)</text>
</g>
<g id="heat3">
<rect x="1323.5" y="448.5" width="209" height="128" fill="#800000"/>
<rect shape-rendering="crispEdges" x="1323.5" y="460.14" width="19" height="11.64" fill="#0000A4"/>
<rect shape-rendering="crispEdges" x="1380.5" y="460.14" width="19" height="11.64" fill="#FFE810"/>
<rect shape-rendering="crispEdges" x="1323.5" y="471.77" width="19" height="11.64" fill="#0000A4"/>
<rect shape-rendering="crispEdges" x="1342.5" y="471.77" width="19" height="11.64" fill="#0010D8"/>
<rect shape-rendering="crispEdges" x="1380.5" y="471.77" width="19" height="11.64" fill="#000090"/>
<rect shape-rendering="crispEdges" x="1399.5" y="471.77" width="19" height="11.64" fill="#FFB810"/>
<rect shape-rendering="crispEdges" x="1494.5" y="471.77" width="19" height="11.64" fill="#60F0A0"/>
<rect shape-rendering="crispEdges" x="1323.5" y="483.41" width="19" height="11.64" fill="#0000A4"/>
<rect shape-rendering="crispEdges" x="1323.5" y="506.68" width="19" height="11.64" fill="#90F070"/>
<rect shape-rendering="crispEdges" x="1380.5" y="506.68" width="38" height="11.64" fill="#A80000"/>
<rect shape-rendering="crispEdges" x="1437.5" y="506.68" width="19" height="11.64" fill="#FFE010"/>
<rect shape-rendering="crispEdges" x="1494.5" y="506.68" width="19" height="11.64" fill="#FF2010"/>
<rect shape-rendering="crispEdges" x="1323.5" y="529.95" width="19" height="11.64" fill="#0000A4"/>
<rect shape-rendering="crispEdges" x="1323.5" y="541.59" width="19" height="11.64" fill="#0000A4"/>
<rect shape-rendering="crispEdges" x="1380.5" y="541.59" width="19" height="11.64" fill="#30F0E0"/>
<rect shape-rendering="crispEdges" x="1399.5" y="541.59" width="19" height="11.64" fill="#FF2010"/>
<rect shape-rendering="crispEdges" x="1323.5" y="553.23" width="19" height="11.64" fill="#0000A4"/>
<rect shape-rendering="crispEdges" x="1323.5" y="564.86" width="19" height="11.64" fill="#2090FF"/>
<g stroke="#000" stroke-width="1" fill="none" shape-rendering="crispEdges">
<rect x="1323.5" y="448.5" width="209" height="128"/>
<path stroke-opacity="0.6" d="M1332.5 576.5v-2M1332.5 448.5v2M1323.5 454.5h2M1532.5 454.5h-2M1352.5 576.5v-2M1352.5 448.5v2M1323.5 465.5h2M1532.5 465.5h-2M1370.5 576.5v-2M1370.5 448.5v2M1323.5 477.5h2M1532.5 477.5h-2M1390.5 576.5v-2M1390.5 448.5v2M1323.5 489.5h2M1532.5 489.5h-2M1408.5 576.5v-2M1408.5 448.5v2M1323.5 500.5h2M1532.5 500.5h-2M1428.5 576.5v-2M1428.5 448.5v2M1323.5 512.5h2M1532.5 512.5h-2M1446.5 576.5v-2M1446.5 448.5v2M1323.5 524.5h2M1532.5 524.5h-2M1466.5 576.5v-2M1466.5 448.5v2M1323.5 535.5h2M1532.5 535.5h-2M1484.5 576.5v-2M1484.5 448.5v2M1323.5 547.5h2M1532.5 547.5h-2M1504.5 576.5v-2M1504.5 448.5v2M1323.5 559.5h2M1532.5 559.5h-2M1522.5 576.5v-2M1522.5 448.5v2M1323.5 570.5h2M1532.5 570.5h-2"/>
</g>
<text x="1332.2" y="593.8" text-anchor="middle">1</text>
<text x="1318.5" y="458.62" text-anchor="end">1</text>
<text x="1351.2" y="593.8" text-anchor="middle">2</text>
<text x="1318.5" y="470.25" text-anchor="end">2</text>
<text x="1370.2" y="593.8" text-anchor="middle">3</text>
<text x="1318.5" y="481.89" text-anchor="end">3</text>
<text x="1389.2" y="593.8" text-anchor="middle">4</text>
<text x="1318.5" y="493.53" text-anchor="end">4</text>
<text x="1408.2" y="593.8" text-anchor="middle">12</text>
<text x="1318.5" y="505.16" text-anchor="end">12</text>
<text x="1427.2" y="593.8" text-anchor="middle">13</text>
<text x="1318.5" y="516.8" text-anchor="end">13</text>
<text x="1446.2" y="593.8" text-anchor="middle">14</text>
<text x="1318.5" y="528.44" text-anchor="end">14</text>
<text x="1465.2" y="593.8" text-anchor="middle">23</text>
<text x="1318.5" y="540.07" text-anchor="end">23</text>
<text x="1484.2" y="593.8" text-anchor="middle">24</text>
<text x="1318.5" y="551.71" text-anchor="end">24</text>
<text x="1503.2" y="593.8" text-anchor="middle">34</text>
<text x="1318.5" y="563.35" text-anchor="end">34</text>
<text x="1522.2" y="593.8" text-anchor="middle">triplets</text>
<text x="1318.5" y="574.98" text-anchor="end">triplets</text>
<text x="1427" y="437" text-anchor="middle">KS test (aggregated)</text>
</g>
<g id="heat4">
<rect x="1323.5" y="635.5" width="209" height="129" fill="#800000"/>
<rect shape-rendering="crispEdges" x="1342.5" y="635.5" width="95" height="11.73" fill="#00008F"/>
<rect shape-rendering="crispEdges" x="1437.5" y="635.5" width="19" height="11.73" fill="#20A0FF"/>
<rect shape-rendering="crispEdges" x="1456.5" y="635.5" width="76" height="11.73" fill="#00008F"/>
<rect shape-rendering="crispEdges" x="1323.5" y="647.23" width="19" height="11.73" fill="#00008F"/>
<rect shape-rendering="crispEdges" x="1361.5" y="647.23" width="57" height="11.73" fill="#00008F"/>
<rect shape-rendering="crispEdges" x="1418.5" y="647.23" width="19" height="11.73" fill="#0000B0"/>
<rect shape-rendering="crispEdges" x="1456.5" y="647.23" width="76" height="11.73" fill="#00008F"/>
<rect shape-rendering="crispEdges" x="1323.5" y="658.95" width="19" height="11.73" fill="#00008F"/>
<rect shape-rendering="crispEdges" x="1399.5" y="658.95" width="19" height="11.73" fill="#0010D0"/>
<rect shape-rendering="crispEdges" x="1418.5" y="658.95" width="19" height="11.73" fill="#20A0FF"/>
<rect shape-rendering="crispEdges" x="1456.5" y="658.95" width="76" height="11.73" fill="#00008F"/>
<rect shape-rendering="crispEdges" x="1323.5" y="670.68" width="19" height="11.73" fill="#00008F"/>
<rect shape-rendering="crispEdges" x="1361.5" y="670.68" width="19" height="11.73" fill="#00008F"/>
<rect shape-rendering="crispEdges" x="1399.5" y="670.68" width="19" height="11.73" fill="#000098"/>
<rect shape-rendering="crispEdges" x="1418.5" y="670.68" width="19" height="11.73" fill="#1030FF"/>
<rect shape-rendering="crispEdges" x="1456.5" y="670.68" width="76" height="11.73" fill="#00008F"/>
<rect shape-rendering="crispEdges" x="1513.5" y="682.41" width="19" height="11.73" fill="#2080FF"/>
<rect shape-rendering="crispEdges" x="1456.5" y="694.14" width="19" height="11.73" fill="#F0F820"/>
<rect shape-rendering="crispEdges" x="1494.5" y="694.14" width="19" height="11.73" fill="#FF4010"/>
<rect shape-rendering="crispEdges" x="1513.5" y="694.14" width="19" height="11.73" fill="#2080FF"/>
<rect shape-rendering="crispEdges" x="1399.5" y="705.86" width="19" height="11.73" fill="#FF7010"/>
<rect shape-rendering="crispEdges" x="1456.5" y="705.86" width="19" height="11.73" fill="#30F0E0"/>
<rect shape-rendering="crispEdges" x="1475.5" y="705.86" width="19" height="11.73" fill="#20F0F0"/>
<rect shape-rendering="crispEdges" x="1494.5" y="705.86" width="19" height="11.73" fill="#40F0C0"/>
<rect shape-rendering="crispEdges" x="1513.5" y="705.86" width="19" height="11.73" fill="#000090"/>
<rect shape-rendering="crispEdges" x="1513.5" y="717.59" width="19" height="11.73" fill="#1050F0"/>
<rect shape-rendering="crispEdges" x="1513.5" y="729.32" width="19" height="11.73" fill="#1030F0"/>
<rect shape-rendering="crispEdges" x="1513.5" y="741.05" width="19" height="11.73" fill="#1030F0"/>
<g stroke="#000" stroke-width="1" fill="none" shape-rendering="crispEdges">
<rect x="1323.5" y="635.5" width="209" height="129"/>
<path stroke-opacity="0.6" d="M1332.5 764.5v-2M1332.5 635.5v2M1323.5 641.5h2M1532.5 641.5h-2M1352.5 764.5v-2M1352.5 635.5v2M1323.5 653.5h2M1532.5 653.5h-2M1370.5 764.5v-2M1370.5 635.5v2M1323.5 664.5h2M1532.5 664.5h-2M1390.5 764.5v-2M1390.5 635.5v2M1323.5 676.5h2M1532.5 676.5h-2M1408.5 764.5v-2M1408.5 635.5v2M1323.5 688.5h2M1532.5 688.5h-2M1428.5 764.5v-2M1428.5 635.5v2M1323.5 700.5h2M1532.5 700.5h-2M1446.5 764.5v-2M1446.5 635.5v2M1323.5 711.5h2M1532.5 711.5h-2M1466.5 764.5v-2M1466.5 635.5v2M1323.5 723.5h2M1532.5 723.5h-2M1484.5 764.5v-2M1484.5 635.5v2M1323.5 735.5h2M1532.5 735.5h-2M1504.5 764.5v-2M1504.5 635.5v2M1323.5 746.5h2M1532.5 746.5h-2M1522.5 764.5v-2M1522.5 635.5v2M1323.5 758.5h2M1532.5 758.5h-2"/>
</g>
<text x="1332.2" y="781.8" text-anchor="middle">1</text>
<text x="1318.5" y="645.66" text-anchor="end">1</text>
<text x="1351.2" y="781.8" text-anchor="middle">2</text>
<text x="1318.5" y="657.49" text-anchor="end">2</text>
<text x="1370.2" y="781.8" text-anchor="middle">3</text>
<text x="1318.5" y="669.32" text-anchor="end">3</text>
<text x="1389.2" y="781.8" text-anchor="middle">4</text>
<text x="1318.5" y="681.15" text-anchor="end">4</text>
<text x="1408.2" y="781.8" text-anchor="middle">12</text>
<text x="1318.5" y="692.97" text-anchor="end">12</text>
<text x="1427.2" y="781.8" text-anchor="middle">13</text>
<text x="1318.5" y="704.8" text-anchor="end">13</text>
<text x="1446.2" y="781.8" text-anchor="middle">14</text>
<text x="1318.5" y="716.63" text-anchor="end">14</text>
<text x="1465.2" y="781.8" text-anchor="middle">23</text>
<text x="1318.5" y="728.45" text-anchor="end">23</text>
<text x="1484.2" y="781.8" text-anchor="middle">24</text>
<text x="1318.5" y="740.28" text-anchor="end">24</text>
<text x="1503.2" y="781.8" text-anchor="middle">34</text>
<text x="1318.5" y="752.11" text-anchor="end">34</text>
<text x="1522.2" y="781.8" text-anchor="middle">triplets</text>
<text x="1318.5" y="763.94" text-anchor="end">triplets</text>
<text x="1427" y="624" text-anchor="middle">KS test (aggregated)</text>
</g>
</svg>
</body></html>
